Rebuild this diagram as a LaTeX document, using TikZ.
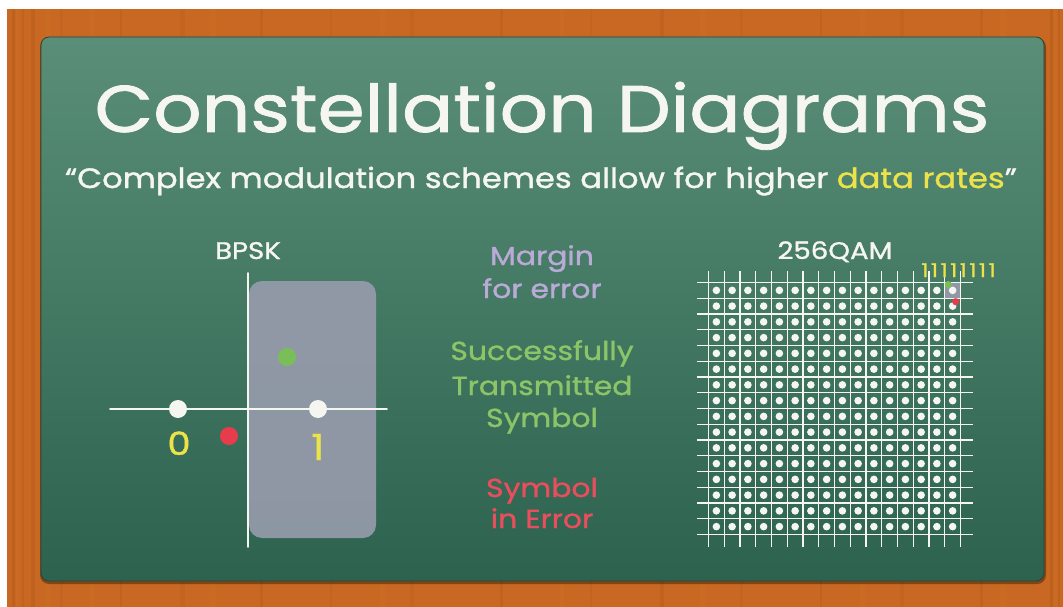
\documentclass[tikz,border=0pt]{standalone}
\usepackage{fontspec}
\setmainfont{Poppins}
\newfontfamily\chalk{Poppins}[FakeStretch=1.15,FakeBold=1.2]
\definecolor{wood}{RGB}{200,104,34}
\definecolor{wooddark}{RGB}{168,78,24}
\definecolor{woodlight}{RGB}{214,122,48}
\definecolor{boardtop}{RGB}{90,142,120}
\definecolor{boardbot}{RGB}{44,98,78}
\definecolor{boardedge}{RGB}{40,70,55}
\definecolor{chalkwhite}{RGB}{246,246,240}
\definecolor{chalkyellow}{RGB}{236,226,74}
\definecolor{chalklav}{RGB}{186,170,214}
\definecolor{chalkgreen}{RGB}{140,196,104}
\definecolor{chalkred}{RGB}{232,78,92}
\definecolor{boxgray}{RGB}{152,156,172}
\definecolor{dotgreen}{RGB}{122,190,88}
\definecolor{dotred}{RGB}{232,60,76}
\newcommand\dg[1]{\makebox[9.6pt]{#1}}
\begin{document}
\begin{tikzpicture}[x=1pt,y=-1pt,
  txt/.style={inner sep=0pt, anchor=base},
  chalkline/.style={draw=chalkwhite, line width=1.6pt, line cap=round},
  bigdot/.style={circle, inner sep=0pt, minimum size=18pt, fill=#1},
  griddot/.style={chalkwhite}]
\useasboundingbox (0,0) rectangle (1063,607);
\fill[white] (0,0) rectangle (1063,607);
% wood
\fill[wood] (7,9) rectangle (1063,607);
\foreach \x/\w/\o in {12/3/.3,22/2/.2,31/4/.25,60/3/.15,120/2/.2,180/5/.15,260/3/.2,330/2/.15,410/4/.15,500/3/.2,590/2/.15,660/4/.2,740/3/.15,820/2/.2,900/4/.15,980/3/.2,1050/3/.3,1058/2/.25}
  \fill[wooddark, opacity=\o] (\x,9) rectangle ++(\w,598);
\foreach \x/\w in {16/3,45/6,90/4,210/6,380/5,560/4,700/6,860/5,1000/6,1054/3}
  \fill[woodlight, opacity=.2] (\x,9) rectangle ++(\w,598);
% board
\fill[black, opacity=.35, rounded corners=9pt] (40,38) rectangle (1046,584);
\shade[top color=boardtop, bottom color=boardbot, rounded corners=8pt] (41,37) rectangle (1044,581);
\draw[boardedge, line width=.8pt, rounded corners=8pt] (41,37) rectangle (1044,581);
% title
\node[txt, font=\chalk\fontsize{66}{72}\selectfont, text=chalkwhite] (title) at (542,132) {Constellation Diagrams};
\node[txt, font=\chalk\fontsize{28}{32}\selectfont, text=chalkwhite] (subtitle) at (541,188) {“Complex modulation schemes allow for higher \textcolor{chalkyellow}{data rates}”};
% BPSK
\node[txt, font=\chalk\fontsize{24}{26}\selectfont, text=chalkwhite] (bpsk) at (248,259) {BPSK};
\fill[boxgray, opacity=.9, rounded corners=13pt] (249,281) rectangle (376,538);
\coordinate (hl) at (110,409); \coordinate (hr) at (387,409);
\coordinate (vt) at (248,273); \coordinate (vb) at (248,547);
\draw[chalkline] (hl) -- (hr);
\draw[chalkline] (vt) -- (vb);
\node[bigdot=chalkwhite] (s0) at (178,409) {};
\node[bigdot=chalkwhite] (s1) at (318,409) {};
\node[bigdot=dotgreen] (sg) at (287,357) {};
\node[bigdot=dotred] (sr) at (229,436) {};
\node[txt, font=\chalk\fontsize{32}{36}\selectfont, text=chalkyellow] (l0) at (179,455) {0};
\node[txt, font=\chalk\fontsize{36}{38}\selectfont, text=chalkyellow] (l1) at (318,460) {1};
% legend
\begin{scope}[every node/.style={txt, font=\chalk\fontsize{26}{28}\selectfont}]
\node[text=chalklav] (m1) at (542,265) {Margin};
\node[text=chalklav] (m2) at (542,298) {for error};
\node[text=chalkgreen] (g1) at (542,360) {Successfully};
\node[text=chalkgreen] (g2) at (542,395) {Transmitted};
\node[text=chalkgreen] (g3) at (542,427) {Symbol};
\node[text=chalkred] (r1) at (542,497) {Symbol};
\node[text=chalkred] (r2) at (542,528) {in Error};
\end{scope}
% 256QAM
\node[txt, font=\chalk\fontsize{24}{26}\selectfont, text=chalkwhite] (qam) at (835,259) {256QAM};
\fill[boxgray, opacity=.9] (944.75,282.5) rectangle (960.5,298.25);
\foreach \i in {0,...,16}{
  \draw[draw=chalkwhite, line width=1.4pt] (708.5+15.75*\i,271) -- (708.5+15.75*\i,547);
  \draw[draw=chalkwhite, line width=1.4pt] (697,282.5+15.75*\i) -- (973,282.5+15.75*\i);
}
\foreach \i in {0,...,15}
  \foreach \j in {0,...,15}
    \fill[griddot] (716.375+15.75*\i,290.375+15.75*\j) circle (3.8);
\fill[dotgreen] (948.3,284.6) circle (3.6);
\fill[dotred] (955.7,301.7) circle (3.6);
\node[txt, font=\chalk\fontsize{19}{20}\selectfont, text=chalkyellow] (bits) at (958.5,277) {\dg1\dg1\dg1\dg1\dg1\dg1\dg1\dg1};
\end{tikzpicture}
\end{document}
